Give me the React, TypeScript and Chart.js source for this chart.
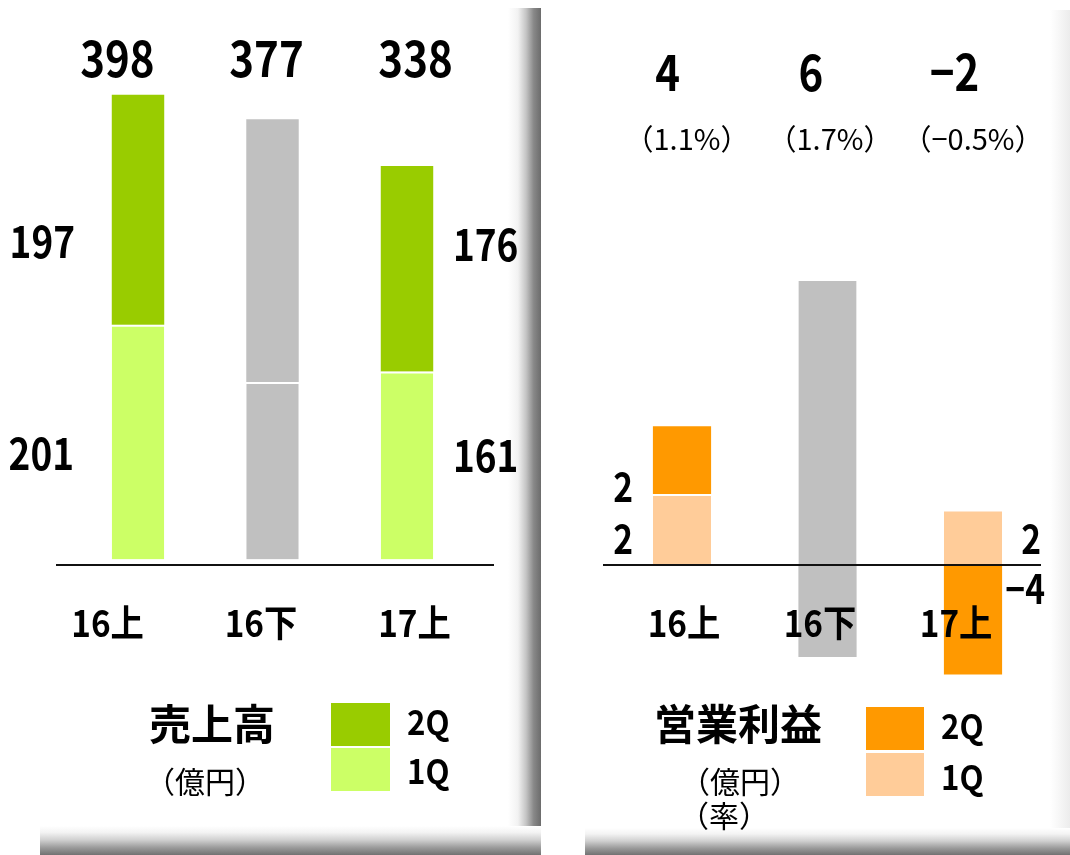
import React, { useEffect, useRef } from "react";
import { Chart, registerables } from "chart.js";

Chart.register(...registerables);

const FONT = '"Noto Sans CJK JP", "Noto Sans", sans-serif';

// ---------------- data ----------------
const categories = ["16上", "16下", "17上"];

const salesQ1 = [201, 152, 161];
const salesQ2 = [197, 225, 176];
const salesTotals = [398, 377, 338];
const salesQ1Colors = ["#CCFF66", "#C0C0C0", "#CCFF66"];
const salesQ2Colors = ["#99CC00", "#C0C0C0", "#99CC00"];

const profitQ1 = [2.56, 10.38, 2.0];
const profitQ2 = [2.47, -3.36, -4.0];
const profitQ1Labels = [2, null, 2];
const profitQ2Labels = [2, null, -4];
const profitTotals = [4, 6, -2];
const profitRates = [1.1, 1.7, -0.5];
const profitQ1Colors = ["#FFCC99", "#C0C0C0", "#FFCC99"];
const profitQ2Colors = ["#FF9900", "#C0C0C0", "#FF9900"];

const legendNames = ["2Q", "1Q"];
const salesTitle = "売上高";
const profitTitle = "営業利益";
const unitYen = "（億円）";
const unitRate = "（率）";

// ---------------- helpers ----------------
const fmt = (n: number) => (n < 0 ? "−" + Math.abs(n) : String(n));
const fmtRate = (n: number) => "（" + (n < 0 ? "−" + Math.abs(n).toFixed(1) : n.toFixed(1)) + "%）";

type TxtOpt = { size: number; bold?: boolean; align?: "left" | "center" | "right"; sx?: number };
function txt(ctx: CanvasRenderingContext2D, s: string, x: number, y: number, o: TxtOpt) {
  const sx = o.sx ?? 1;
  ctx.save();
  ctx.font = `${o.bold ? "bold " : ""}${o.size}px ${FONT}`;
  ctx.fillStyle = "#000";
  ctx.textBaseline = "middle";
  ctx.textAlign = "left";
  const w = ctx.measureText(s).width * sx;
  const align = o.align ?? "center";
  const left = align === "left" ? x : align === "right" ? x - w : x - w / 2;
  ctx.translate(left, y);
  ctx.scale(sx, 1);
  ctx.fillText(s, 0, 0);
  ctx.restore();
}

function hline(ctx: CanvasRenderingContext2D, x1: number, x2: number, y: number) {
  ctx.save();
  ctx.strokeStyle = "#111";
  ctx.lineWidth = 2;
  ctx.beginPath();
  ctx.moveTo(x1, y);
  ctx.lineTo(x2, y);
  ctx.stroke();
  ctx.restore();
}

const BIG = { size: 50, bold: true, sx: 0.84 };
const SEG = { size: 44, bold: true, sx: 0.84 };
const CAT = { size: 37, bold: true, sx: 0.9 };

const CANVAS_H = 855;

function baseOptions(pad: any, min: number, max: number): any {
  return {
    responsive: false,
    animation: false,
    devicePixelRatio: 1,
    events: [],
    layout: { padding: pad },
    plugins: { legend: { display: false }, tooltip: { enabled: false } },
    scales: {
      x: { type: "category", display: false, stacked: true, offset: true },
      y: { display: false, stacked: true, min, max },
    },
  };
}

function makeSales(canvas: HTMLCanvasElement) {
  const decor = {
    id: "salesDecor",
    afterDatasetsDraw(chart: any) {
      const ctx = chart.ctx as CanvasRenderingContext2D;
      const yS = chart.scales.y;
      const xs: number[] = chart.getDatasetMeta(0).data.map((b: any) => b.x);
      const mid = xs[1];
      const zero = yS.getPixelForValue(0);
      hline(ctx, 56, 494, zero + 5.5);
      salesTotals.forEach((v, i) => txt(ctx, String(v), mid - 6 + 1.108 * (xs[i] - mid), 58, BIG));
      categories.forEach((c, i) => txt(ctx, c, mid - 11.5 + 1.141 * (xs[i] - mid), 623, CAT));
      const last = xs.length - 1;
      txt(ctx, String(salesQ2[0]), 75, 241, { ...SEG, align: "right" });
      txt(ctx, String(salesQ1[0]), 74, 453, { ...SEG, align: "right" });
      txt(ctx, String(salesQ2[last]), 453, 244, { ...SEG, align: "left" });
      txt(ctx, String(salesQ1[last]), 453, 455, { ...SEG, align: "left" });
      // legend
      txt(ctx, salesTitle, 212, 724, { size: 42, bold: true });
      txt(ctx, unitYen, 205, 782, { size: 30 });
      ctx.fillStyle = salesQ2Colors[0];
      ctx.fillRect(331, 703, 59, 43);
      ctx.fillStyle = salesQ1Colors[0];
      ctx.fillRect(331, 748, 59, 43);
      txt(ctx, legendNames[0], 407, 722, { size: 34, bold: true, align: "left", sx: 0.92 });
      txt(ctx, legendNames[1], 407, 771, { size: 34, bold: true, align: "left", sx: 0.92 });
    },
  };
  return new Chart(canvas, {
    type: "bar",
    data: {
      labels: categories,
      datasets: [
        {
          label: legendNames[1],
          data: salesQ1,
          backgroundColor: salesQ1Colors,
          borderColor: "#ffffff",
          borderWidth: { top: 2, bottom: 0, left: 0, right: 0 },
          barPercentage: 0.39,
          categoryPercentage: 1,
        },
        {
          label: legendNames[0],
          data: salesQ2,
          backgroundColor: salesQ2Colors,
          borderWidth: 0,
          barPercentage: 0.39,
          categoryPercentage: 1,
        },
      ],
    },
    options: baseOptions({ left: 70.75, right: 45.75, top: 34, bottom: CANVAS_H - 559.5 }, 0, 450),
    plugins: [decor],
  } as any);
}

function makeProfit(canvas: HTMLCanvasElement) {
  const decor = {
    id: "profitDecor",
    afterDatasetsDraw(chart: any) {
      const ctx = chart.ctx as CanvasRenderingContext2D;
      const yS = chart.scales.y;
      const xs: number[] = chart.getDatasetMeta(0).data.map((b: any) => b.x);
      const mid = xs[1];
      const zero = yS.getPixelForValue(0);
      hline(ctx, 62, 500, zero + 0.5);
      profitTotals.forEach((v, i) => txt(ctx, fmt(v), mid - 16.5 + 0.986 * (xs[i] - mid), 72, BIG));
      profitRates.forEach((v, i) => txt(ctx, fmtRate(v), mid + 2.5 + 0.983 * (xs[i] - mid), 139, { size: 29 }));
      categories.forEach((c, i) => txt(ctx, c, mid - 7.5 + 0.935 * (xs[i] - mid), 623, CAT));
      const last = xs.length - 1;
      const segY = (v: number, q: number) => (v < 0 ? 589 : q === 2 ? 487 : 539);
      const sideX = [92, 500];
      [0, last].forEach((i, k) => {
        const q1 = profitQ1Labels[i];
        const q2 = profitQ2Labels[i];
        if (q1 !== null) txt(ctx, fmt(q1), sideX[k], segY(q1, 1), { ...SEG, size: 40, align: "right" });
        if (q2 !== null) txt(ctx, fmt(q2), sideX[k] + (q2 < 0 ? 4 : 0), segY(q2, 2), { ...SEG, size: 40, align: "right" });
      });
      // legend
      txt(ctx, profitTitle, 197, 724, { size: 42, bold: true });
      txt(ctx, unitYen, 199, 782, { size: 30 });
      txt(ctx, unitRate, 183, 816, { size: 30 });
      ctx.fillStyle = profitQ2Colors[0];
      ctx.fillRect(325, 707, 58, 43);
      ctx.fillStyle = profitQ1Colors[0];
      ctx.fillRect(325, 753, 58, 43);
      txt(ctx, legendNames[0], 400, 726, { size: 34, bold: true, align: "left", sx: 0.92 });
      txt(ctx, legendNames[1], 400, 777, { size: 34, bold: true, align: "left", sx: 0.92 });
    },
  };
  return new Chart(canvas, {
    type: "bar",
    data: {
      labels: categories,
      datasets: [
        {
          label: legendNames[1],
          data: profitQ1,
          backgroundColor: profitQ1Colors,
          borderColor: "#ffffff",
          borderWidth: { top: 2, bottom: 0, left: 0, right: 0 },
          barPercentage: 0.4,
          categoryPercentage: 1,
        },
        {
          label: legendNames[0],
          data: profitQ2,
          backgroundColor: profitQ2Colors,
          borderWidth: 0,
          barPercentage: 0.4,
          categoryPercentage: 1,
        },
      ],
    },
    options: baseOptions({ left: 68.25, right: 4.25, top: 152, bottom: CANVAS_H - 757 }, -7, 15),
    plugins: [decor],
  } as any);
}

function ChartCanvas(props: { left: number; width: number; height: number; build: (c: HTMLCanvasElement) => Chart }) {
  const ref = useRef<HTMLCanvasElement>(null);
  useEffect(() => {
    const chart = props.build(ref.current as HTMLCanvasElement);
    return () => chart.destroy();
  }, []);
  return (
    <canvas
      ref={ref}
      width={props.width}
      height={props.height}
      style={{ position: "absolute", left: props.left, top: 0, width: props.width, height: props.height }}
    />
  );
}

const strip = (s: React.CSSProperties): React.CSSProperties => ({ position: "absolute", ...s });
const BOTTOM_GRAD = "linear-gradient(to bottom, #ffffff 0%, #f3f3f3 22%, #d0d0d0 48%, #9a9a9a 75%, #727272 100%)";

export default function App() {
  return (
    <div
      style={{
        position: "fixed",
        left: 0,
        top: 0,
        width: 1070,
        height: 855,
        background: "#ffffff",
        overflow: "hidden",
      }}
    >
      {/* shadows */}
      <div
        style={strip({
          left: 508,
          top: 8,
          width: 33,
          height: 847,
          background: "linear-gradient(to right, #ffffff 0%, #f2f2f2 30%, #c4c4c4 55%, #888888 78%, #6c6c6c 100%)",
        })}
      />
      <div style={strip({ left: 40, top: 826, width: 501, height: 29, background: BOTTOM_GRAD })} />
      <div
        style={strip({
          left: 1050,
          top: 10,
          width: 20,
          height: 845,
          background: "linear-gradient(to right, #ffffff 0%, #f6f6f6 50%, #ececec 100%)",
        })}
      />
      <div style={strip({ left: 585, top: 828, width: 485, height: 27, background: BOTTOM_GRAD })} />
      <ChartCanvas left={0} width={520} height={CANVAS_H} build={makeSales} />
      <ChartCanvas left={541} width={509} height={CANVAS_H} build={makeProfit} />
    </div>
  );
}
